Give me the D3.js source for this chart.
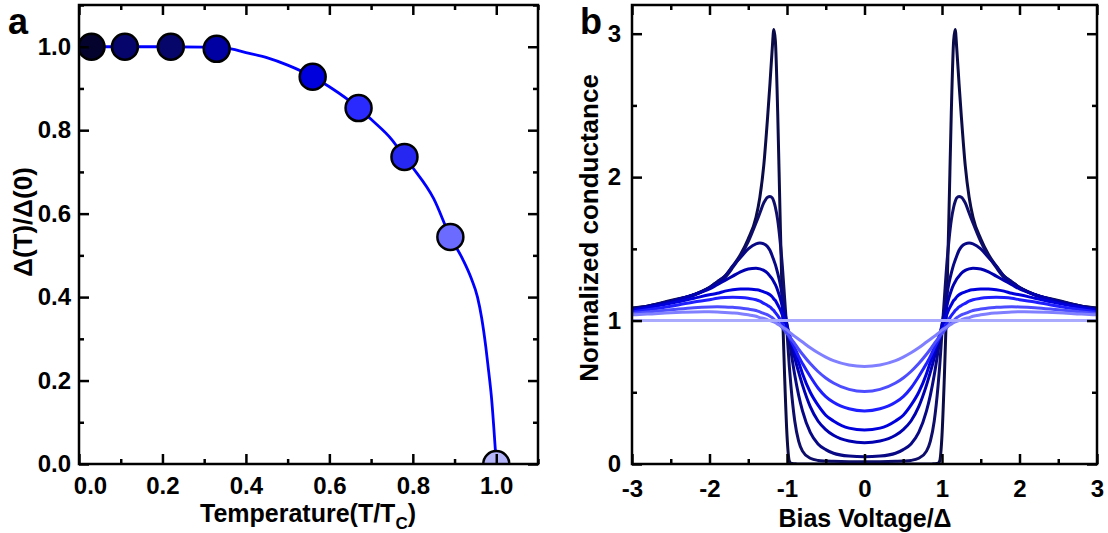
<!DOCTYPE html>
<html>
<head lang="en">
    <meta charset="UTF-8">
    <title></title>
    <style>
        body { margin: 0; background: #fff; }
        text { font-family: 'Liberation Sans', Arial, sans-serif; font-weight: bold; fill: #000; }
    </style>
</head>
<body>

<script src="https://cdnjs.cloudflare.com/ajax/libs/d3/7.8.5/d3.min.js"></script>
<script>

    // ---- panel a : gap vs temperature ----
    var tempPoints = [0.03, 0.11, 0.22, 0.33, 0.56, 0.67, 0.78, 0.89, 1.0];
    var gapPoints  = [1.0, 1.0, 1.0, 0.995, 0.928, 0.853, 0.736, 0.544, 0.0];
    var pointColors = ['#03032e', '#05056c', '#05056a', '#0000a2', '#0000dc', '#2a2aff', '#2727f2', '#6b6bff', '#b4b4fb'];

    var lineT   = [0, 0.1, 0.2, 0.3, 0.35, 0.4, 0.45, 0.5, 0.56, 0.6, 0.67, 0.7, 0.75, 0.78, 0.8, 0.85, 0.89, 0.92, 0.94, 0.955, 0.965, 0.975, 0.982, 0.988, 1.0];
    var lineGap = [1.0, 1.0, 1.0, 0.999, 0.997, 0.986, 0.974, 0.956, 0.928, 0.904, 0.853, 0.826, 0.777, 0.736, 0.71, 0.636, 0.544, 0.49, 0.445, 0.40, 0.35, 0.28, 0.22, 0.165, 0.0];

    var xTicksA = [0, 0.2, 0.4, 0.6, 0.8, 1.0];
    var xMinorA = [0.1, 0.3, 0.5, 0.7, 0.9, 1.1];
    var yTicksA = [0, 0.2, 0.4, 0.6, 0.8, 1.0];
    var yMinorA = [0.1, 0.3, 0.5, 0.7, 0.9, 1.1];

    // ---- panel b : conductance curves (positive bias half, curves are symmetric) ----
    var bias = [0, 0.2, 0.4, 0.5, 0.6, 0.7, 0.8, 0.85, 0.9, 0.95, 0.97, 1.0, 1.03, 1.06, 1.09, 1.12, 1.15, 1.17, 1.19, 1.22, 1.25, 1.3, 1.35, 1.4, 1.5, 1.6, 1.7, 1.8, 1.9, 2.0, 2.2, 2.5, 2.8, 3.0];
    var g1 = [0, 0, 0, 0, 0, 0, 0, 0, 0.002, 0.005, 0.02, 0.2, 0.6, 1.1, 1.75, 2.45, 2.95, 3.03, 2.9, 2.65, 2.42, 2.08, 1.86, 1.72, 1.57, 1.46, 1.38, 1.31, 1.27, 1.23, 1.18, 1.14, 1.1, 1.088];
    var g2 = [0.015, 0.016, 0.019, 0.021, 0.025, 0.04, 0.09, 0.16, 0.3, 0.55, 0.68, 0.92, 1.15, 1.38, 1.56, 1.7, 1.79, 1.83, 1.855, 1.865, 1.86, 1.82, 1.75, 1.68, 1.55, 1.45, 1.37, 1.3, 1.26, 1.23, 1.18, 1.135, 1.1, 1.085];
    var g3 = [0.05, 0.055, 0.075, 0.1, 0.14, 0.22, 0.37, 0.48, 0.62, 0.79, 0.86, 0.97, 1.07, 1.17, 1.26, 1.33, 1.39, 1.42, 1.45, 1.49, 1.515, 1.535, 1.54, 1.535, 1.5, 1.44, 1.38, 1.31, 1.27, 1.23, 1.18, 1.135, 1.1, 1.08];
    var g4 = [0.149, 0.16, 0.2, 0.24, 0.3, 0.4, 0.55, 0.64, 0.74, 0.85, 0.9, 0.97, 1.04, 1.1, 1.16, 1.21, 1.25, 1.27, 1.29, 1.31, 1.33, 1.35, 1.36, 1.365, 1.36, 1.34, 1.31, 1.28, 1.25, 1.22, 1.18, 1.13, 1.095, 1.075];
    var g5 = [0.237, 0.25, 0.3, 0.34, 0.41, 0.5, 0.63, 0.71, 0.79, 0.87, 0.9, 0.95, 1.0, 1.04, 1.08, 1.11, 1.14, 1.15, 1.165, 1.18, 1.19, 1.2, 1.21, 1.215, 1.22, 1.22, 1.215, 1.205, 1.19, 1.18, 1.155, 1.12, 1.09, 1.07];
    var g6 = [0.37, 0.385, 0.43, 0.47, 0.53, 0.61, 0.7, 0.75, 0.81, 0.86, 0.88, 0.92, 0.95, 0.98, 1.01, 1.035, 1.055, 1.07, 1.08, 1.095, 1.105, 1.12, 1.135, 1.145, 1.155, 1.16, 1.162, 1.16, 1.155, 1.145, 1.13, 1.1, 1.075, 1.06];
    var g7 = [0.505, 0.52, 0.565, 0.6, 0.645, 0.7, 0.765, 0.8, 0.84, 0.875, 0.89, 0.91, 0.93, 0.95, 0.97, 0.985, 1.0, 1.01, 1.02, 1.03, 1.04, 1.05, 1.06, 1.07, 1.08, 1.088, 1.092, 1.095, 1.096, 1.095, 1.09, 1.075, 1.06, 1.05];
    var g8 = [0.68, 0.69, 0.72, 0.745, 0.775, 0.81, 0.85, 0.87, 0.89, 0.91, 0.92, 0.935, 0.945, 0.955, 0.965, 0.975, 0.985, 0.99, 0.995, 1.0, 1.005, 1.015, 1.02, 1.03, 1.04, 1.048, 1.053, 1.057, 1.06, 1.061, 1.06, 1.055, 1.045, 1.04];
    var g9 = [1, 1, 1, 1, 1, 1, 1, 1, 1, 1, 1, 1, 1, 1, 1, 1, 1, 1, 1, 1, 1, 1, 1, 1, 1, 1, 1, 1, 1, 1, 1, 1, 1, 1];
    var curves = [g1, g2, g3, g4, g5, g6, g7, g8, g9];
    var lineColors = ['#0b0b48', '#0e0e6a', '#080885', '#0000b0', '#0000dd', '#1e1eff', '#4d4dff', '#7f7fff', '#aaaaff'];

    var xTicksB = [-3, -2, -1, 0, 1, 2, 3];
    var xMinorB = [-2.5, -1.5, -0.5, 0.5, 1.5, 2.5];
    var yTicksB = [0, 1, 2, 3];
    var yMinorB = [0.5, 1.5, 2.5];

    var w = 1108,
        h = 533;

    var svg = d3.select('body')
            .append('svg')
            .attr('width', w)
            .attr('height', h);

    // draws inward ticks on all four sides and the frame
    function frame(g, x, y, xt, xm, yt, ym, fmt, xPad, yPad) {
        var x0 = x.range()[0], x1 = x.range()[1],
            y0 = y.range()[0], y1 = y.range()[1];

        var bottom = g.append('g').attr('transform', 'translate(0,' + y0 + ')')
                .call(d3.axisBottom(x).tickValues(xt).tickFormat(fmt).tickSize(-10).tickPadding(xPad));
        g.append('g').attr('transform', 'translate(0,' + y0 + ')')
                .call(d3.axisBottom(x).tickValues(xm).tickFormat('').tickSize(-5));
        g.append('g').attr('transform', 'translate(0,' + y1 + ')')
                .call(d3.axisTop(x).tickValues(xt).tickFormat('').tickSize(-10));
        g.append('g').attr('transform', 'translate(0,' + y1 + ')')
                .call(d3.axisTop(x).tickValues(xm).tickFormat('').tickSize(-5));

        var left = g.append('g').attr('transform', 'translate(' + x0 + ',0)')
                .call(d3.axisLeft(y).tickValues(yt).tickFormat(fmt).tickSize(-10).tickPadding(yPad));
        g.append('g').attr('transform', 'translate(' + x0 + ',0)')
                .call(d3.axisLeft(y).tickValues(ym).tickFormat('').tickSize(-5));
        g.append('g').attr('transform', 'translate(' + x1 + ',0)')
                .call(d3.axisRight(y).tickValues(yt).tickFormat('').tickSize(-10));
        g.append('g').attr('transform', 'translate(' + x1 + ',0)')
                .call(d3.axisRight(y).tickValues(ym).tickFormat('').tickSize(-5));

        g.selectAll('.domain').remove();
        g.selectAll('.tick line').attr('stroke', '#000').attr('stroke-width', 2.5);
        g.selectAll('.tick text').attr('font-size', '24px').attr('fill', '#000')
                .attr('font-family', "'Liberation Sans', Arial, sans-serif").attr('font-weight', 'bold');

        g.append('rect')
                .attr('x', x0).attr('y', y1)
                .attr('width', x1 - x0).attr('height', y0 - y1)
                .attr('fill', 'none').attr('stroke', '#000').attr('stroke-width', 2.5);

        return {bottom: bottom, left: left};
    }

    // plain hyphen for negatives, like the original
    function intFmt(d) { return d < 0 ? '-' + Math.abs(d) : '' + d; }

    // ---------- panel a ----------
    var xa = d3.scaleLinear().domain([0, 1.1]).range([79, 538]);
    var ya = d3.scaleLinear().domain([0, 1.1]).range([464, 5]);

    var ga = svg.append('g');

    ga.append('clipPath').attr('id', 'clipA')
            .append('rect')
            .attr('x', 79).attr('y', 5).attr('width', 459).attr('height', 459);

    var lineA = d3.line()
            .x(function(d, i) { return xa(lineT[i]); })
            .y(function(d) { return ya(d); })
            .curve(d3.curveMonotoneX);

    ga.append('path')
            .datum(lineGap)
            .attr('d', lineA)
            .attr('fill', 'none')
            .attr('stroke', '#0000ff')
            .attr('stroke-width', 2.8)
            .attr('clip-path', 'url(#clipA)');

    ga.append('g').attr('clip-path', 'url(#clipA)')
            .selectAll('circle')
            .data(gapPoints)
            .enter()
            .append('circle')
            .attr('cx', function(d, i) { return xa(tempPoints[i]); })
            .attr('cy', function(d) { return ya(d); })
            .attr('r', 13)
            .attr('fill', function(d, i) { return pointColors[i]; })
            .attr('stroke', '#000')
            .attr('stroke-width', 2.5);

    var axA = frame(ga, xa, ya, xTicksA, xMinorA, yTicksA, yMinorA, d3.format('.1f'), 13, 8);
    // first x label is pushed right, away from the y labels
    axA.bottom.select('.tick text').attr('dx', 11);

    var titleA = ga.append('text')
            .attr('x', 308)
            .attr('y', 522)
            .attr('text-anchor', 'middle')
            .attr('font-size', '25px');
    titleA.append('tspan').text('Temperature(T/T');
    titleA.append('tspan').attr('font-size', '17px').attr('dy', 7).text('C');
    titleA.append('tspan').attr('dy', -7).text(')');

    ga.append('text')
            .attr('transform', 'translate(32,222) rotate(-90)')
            .attr('text-anchor', 'middle')
            .attr('font-size', '26px')
            .text('\u0394(T)/\u0394(0)');

    ga.append('text')
            .attr('x', 8)
            .attr('y', 34)
            .attr('font-size', '36px')
            .text('a');

    // ---------- panel b ----------
    var xb = d3.scaleLinear().domain([-3, 3]).range([632, 1097]);
    var yb = d3.scaleLinear().domain([0, 3.2]).range([464, 5]);

    var gb = svg.append('g');

    gb.append('clipPath').attr('id', 'clipB')
            .append('rect')
            .attr('x', 632).attr('y', 5).attr('width', 465).attr('height', 459);

    var lineB = d3.line()
            .x(function(d) { return xb(d[0]); })
            .y(function(d) { return yb(d[1]); })
            .curve(d3.curveMonotoneX);

    function fullCurve(vals) {
        var pts = [];
        for (var i = bias.length - 1; i > 0; i--) pts.push([-bias[i], vals[i]]);
        for (var j = 0; j < bias.length; j++) pts.push([bias[j], vals[j]]);
        return pts;
    }

    gb.append('g').attr('clip-path', 'url(#clipB)')
            .selectAll('path')
            .data(curves)
            .enter()
            .append('path')
            .attr('d', function(d) { return lineB(fullCurve(d)); })
            .attr('fill', 'none')
            .attr('stroke', function(d, i) { return lineColors[i]; })
            .attr('stroke-width', 3);

    frame(gb, xb, yb, xTicksB, xMinorB, yTicksB, yMinorB, intFmt, 16, 11);

    gb.append('text')
            .attr('x', 865)
            .attr('y', 527)
            .attr('text-anchor', 'middle')
            .attr('font-size', '25px')
            .text('Bias Voltage/\u0394');

    gb.append('text')
            .attr('transform', 'translate(598,228) rotate(-90)')
            .attr('text-anchor', 'middle')
            .attr('font-size', '26px')
            .text('Normalized conductance');

    gb.append('text')
            .attr('x', 580)
            .attr('y', 34)
            .attr('font-size', '36px')
            .text('b');

</script>
</body>
</html>
